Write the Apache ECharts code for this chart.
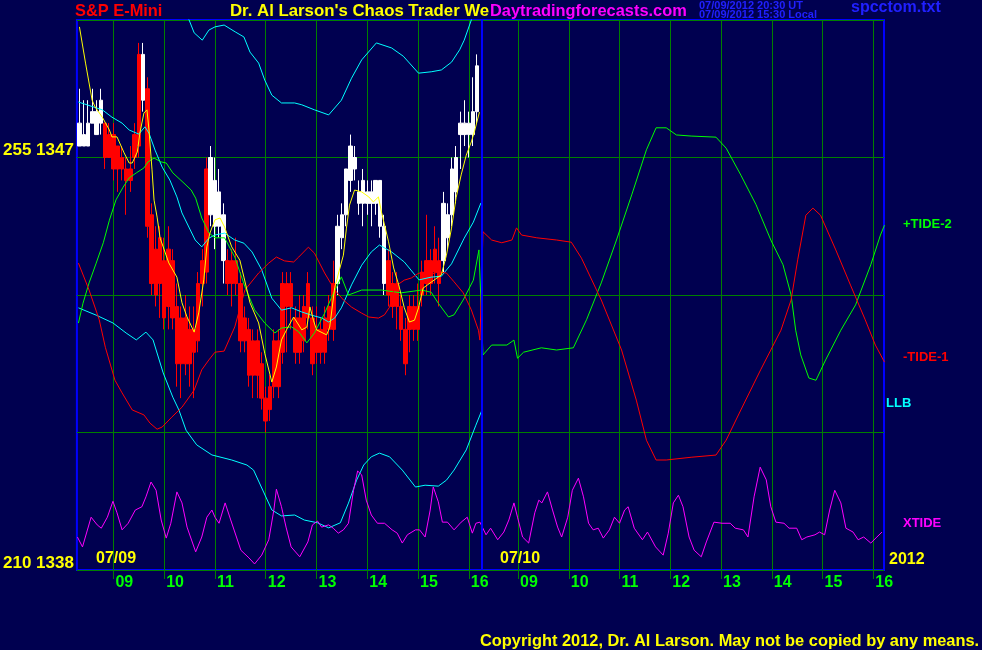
<!DOCTYPE html>
<html><head><meta charset="utf-8">
<script src="https://cdn.jsdelivr.net/npm/echarts@6.0.0/dist/echarts.min.js"></script>
<style>html,body{margin:0;padding:0;background:#000050;}#c{width:982px;height:650px;}</style>
</head><body><div id="c"></div>
<script>
// ---------- axis / session setup ----------
const SESSION_START = 8.28;   // left edge of each day panel (hour of day)
const SESSION_LEN = 7.97;     // hours shown per day panel
const X_MAX = 15.9;
const hourLabels = ['09','10','11','12','13','14','15','16'];
const dayLabels = ['07/09','07/10'];
const yTickValues = [1338, 1347];
const yTickTexts = ['210 1338', '255 1347'];

// ---------- candles: 5-minute bars from 8:20 on 07/09 ----------
const barFirstHour = 8 + 20/60;
const barStepHours = 5/60;
const barOpen = [1347.25,1347.25,1347.25,1347.75,1347.5,1347.75,1347.75,1347.5,1347.5,1347.25,1347.0,1346.75,1346.75,1347.5,1349.25,1348.25,1348.5,1345.75,1345.0,1345.25,1344.75,1345.0,1344.75,1343.75,1343.5,1343.5,1343.25,1343.25,1344.25,1344.75,1346.75,1345.75,1345.5,1345.5,1344.75,1344.75,1344.75,1344.75,1344.25,1343.5,1343.25,1343.0,1343.0,1342.5,1341.75,1342.0,1343.0,1343.0,1344.25,1344.25,1344.25,1343.5,1343.5,1343.75,1344.25,1343.5,1343.25,1343.25,1343.5,1343.75,1344.25,1344.25,1345.25,1345.75,1346.5,1346.75,1346.0,1346.0,1346.0,1346.0,1346.0,1345.5,1344.25,1344.75,1344.25,1344.25,1343.75,1343.25,1343.75,1343.75,1343.75,1344.5,1344.75,1344.75,1345.0,1344.75,1344.75,1345.25,1345.75,1346.25,1347.5,1347.5,1347.5,1347.5,1348.0];
const barClose = [1347.75,1347.5,1347.75,1348.0,1348.0,1348.25,1347.0,1347.0,1346.75,1346.75,1346.75,1346.5,1346.5,1347.0,1347.25,1349.25,1345.5,1344.25,1344.0,1344.25,1343.5,1343.75,1343.5,1342.5,1342.5,1342.5,1342.5,1342.75,1343.0,1344.25,1344.5,1347.0,1346.5,1346.25,1345.75,1344.25,1344.25,1344.25,1343.0,1343.0,1342.25,1342.25,1342.25,1341.75,1341.25,1341.5,1342.0,1342.0,1342.75,1343.75,1343.75,1342.75,1342.75,1343.0,1343.5,1342.5,1342.75,1342.75,1342.75,1343.25,1343.25,1345.5,1345.75,1346.75,1347.25,1347.0,1346.25,1346.5,1346.25,1346.25,1346.5,1346.5,1345.5,1344.0,1343.75,1343.75,1343.25,1342.5,1343.25,1343.25,1343.25,1344.0,1344.25,1344.25,1344.5,1344.25,1346.0,1345.75,1346.75,1347.0,1347.75,1347.75,1347.75,1348.0,1349.0];
const barHigh = [1348.5,1348.25,1348.25,1348.5,1348.25,1348.5,1347.75,1347.75,1347.75,1347.25,1347.25,1347.0,1347.25,1347.75,1349.5,1349.5,1348.75,1346.0,1345.5,1345.5,1345.25,1345.5,1345.0,1344.25,1343.75,1344.0,1343.75,1343.75,1344.5,1345.0,1347.0,1347.25,1347.0,1346.75,1346.0,1345.0,1345.0,1345.25,1344.5,1343.75,1343.5,1343.25,1343.25,1342.75,1342.0,1342.25,1343.25,1343.25,1344.5,1344.5,1344.5,1343.75,1344.0,1344.0,1344.5,1343.75,1343.75,1343.5,1343.75,1344.0,1344.75,1345.75,1346.0,1346.75,1347.5,1347.25,1346.5,1346.75,1346.5,1346.5,1346.5,1346.5,1345.75,1345.0,1344.5,1344.5,1344.0,1343.5,1344.0,1344.0,1344.25,1344.75,1345.75,1345.0,1345.5,1345.25,1346.25,1346.0,1347.0,1347.25,1348.0,1348.25,1348.0,1348.75,1349.25];
const barLow = [1347.25,1347.25,1347.25,1347.75,1347.5,1347.5,1346.75,1347.0,1346.5,1346.25,1346.5,1345.75,1346.25,1346.75,1347.0,1348.0,1345.25,1344.0,1343.75,1343.5,1343.25,1343.25,1343.25,1342.0,1341.75,1342.25,1342.0,1341.75,1342.75,1343.75,1344.25,1345.5,1345.0,1345.25,1344.25,1344.0,1343.75,1344.0,1342.75,1342.75,1342.0,1341.75,1341.75,1341.5,1341.0,1341.25,1341.75,1341.75,1342.5,1342.75,1343.25,1342.5,1342.5,1342.75,1343.25,1342.25,1342.5,1342.5,1342.5,1343.0,1343.0,1344.0,1345.0,1345.5,1346.25,1346.5,1345.75,1345.5,1345.75,1345.5,1345.75,1345.25,1344.0,1343.75,1343.5,1343.25,1343.0,1342.25,1342.75,1343.0,1343.0,1343.75,1344.0,1344.0,1344.25,1343.75,1344.5,1345.0,1345.5,1346.0,1346.75,1347.25,1347.0,1347.25,1347.75];

// ---------- price overlays on 07/09 : [hour of day, price] ----------
const yellowAvg = [[8.33,1349.85],[8.45,1349.06],[8.58,1348.25],[8.64,1348.10],[8.78,1347.88],[8.92,1347.6],[8.97,1347.45],[9.07,1347.45],[9.21,1347.10],[9.31,1346.88],[9.37,1346.88],[9.47,1347.12],[9.52,1347.53],[9.60,1347.97],[9.66,1348.04],[9.70,1347.6],[9.76,1346.73],[9.80,1346.07],[9.86,1345.70],[9.92,1345.24],[10.09,1344.70],[10.25,1344.39],[10.35,1343.83],[10.45,1343.52],[10.59,1343.19],[10.68,1343.61],[10.78,1344.33],[10.84,1345.05],[10.90,1345.35],[11.0,1345.64],[11.10,1345.68],[11.19,1345.48],[11.33,1345.05],[11.49,1344.76],[11.57,1344.39],[11.69,1343.83],[11.86,1343.39],[11.98,1342.73],[12.12,1342.10],[12.21,1342.43],[12.31,1343.02],[12.41,1343.24],[12.55,1343.52],[12.71,1343.24],[12.81,1343.30],[12.87,1343.74],[12.94,1343.45],[13.0,1343.24],[13.20,1343.13],[13.26,1343.30],[13.36,1344.17],[13.53,1344.87],[13.59,1345.46],[13.65,1345.96],[13.75,1346.29],[13.89,1346.25],[14.03,1346.14],[14.12,1346.03],[14.22,1346.14],[14.28,1345.81],[14.42,1345.16],[14.52,1344.59],[14.62,1344.22],[14.73,1343.72],[14.83,1343.41],[14.93,1343.45],[15.01,1343.72],[15.10,1344.15],[15.26,1344.28],[15.46,1344.44],[15.56,1344.87],[15.66,1345.46],[15.75,1346.12],[15.85,1346.62],[15.95,1347.05],[16.05,1347.34],[16.11,1347.56],[16.21,1347.99]];
const llbUpper = [[10.15,1350.65],[10.49,1350.0],[10.59,1349.72],[10.75,1349.56],[10.88,1349.78],[11.0,1349.85],[11.18,1349.89],[11.40,1349.74],[11.57,1349.63],[11.69,1349.30],[11.86,1349.06],[11.98,1348.69],[12.12,1348.36],[12.31,1348.19],[12.57,1348.19],[12.71,1348.15],[12.96,1348.04],[13.24,1347.93],[13.49,1348.25],[13.69,1348.73],[13.89,1349.13],[14.18,1349.5],[14.48,1349.39],[14.71,1349.21],[15.01,1348.84],[15.26,1348.87],[15.46,1348.91],[15.66,1349.08],[15.82,1349.35],[15.91,1349.56],[16.05,1350.0],[16.15,1350.4]];
const llbMid = [[8.31,1348.21],[8.78,1348.04],[8.97,1347.88],[9.17,1347.75],[9.31,1347.60],[9.50,1347.51],[9.62,1347.67],[9.70,1347.53],[9.82,1347.16],[9.96,1346.79],[10.11,1346.51],[10.25,1346.14],[10.35,1345.79],[10.61,1345.20],[10.74,1345.05],[10.88,1345.24],[11.0,1345.31],[11.19,1345.35],[11.39,1345.20],[11.57,1345.13],[11.73,1344.94],[11.92,1344.55],[12.12,1343.93],[12.31,1343.67],[12.51,1343.72],[12.71,1343.63],[12.90,1343.56],[13.10,1343.50],[13.24,1343.41],[13.36,1343.50],[13.49,1343.72],[13.69,1344.22],[13.89,1344.65],[14.08,1344.94],[14.24,1345.09],[14.48,1344.94],[14.73,1344.72],[15.02,1344.33],[15.26,1344.39],[15.46,1344.41],[15.66,1344.68],[15.91,1345.24],[16.09,1345.59],[16.24,1346.01]];
const llbLower = [[8.31,1343.72],[8.66,1343.56],[8.99,1343.39],[9.25,1343.17],[9.45,1343.02],[9.64,1343.19],[9.78,1343.02],[9.98,1342.30],[10.17,1341.77],[10.29,1341.49],[10.43,1341.05],[10.64,1340.73],[10.94,1340.51],[11.33,1340.40],[11.63,1340.29],[11.76,1340.18],[12.12,1339.31],[12.31,1339.18],[12.57,1339.20],[12.76,1339.09],[13.02,1339.03],[13.24,1338.92],[13.47,1339.03],[13.63,1339.46],[13.79,1339.96],[13.93,1340.29],[14.08,1340.47],[14.24,1340.55],[14.44,1340.47],[14.69,1340.18],[14.95,1339.81],[15.14,1339.85],[15.40,1339.83],[15.56,1339.96],[15.71,1340.18],[15.95,1340.62],[16.14,1341.16],[16.26,1341.49]];

// ---------- tide curves (relative scale 0-100) : [hour of day, value] ----------
const tide2Day1 = [[8.31,44.9],[8.40,48.5],[8.52,52.2],[8.66,55.8],[8.80,59.5],[8.92,63.6],[9.05,67.3],[9.19,69.6],[9.31,71.3],[9.45,72.2],[9.60,73.1],[9.68,74.2],[9.80,74.9],[9.94,74.2],[10.04,74.0],[10.17,72.2],[10.37,70.5],[10.53,69.1],[10.62,67.6],[10.74,64.0],[10.88,61.3],[11.0,60.4],[11.19,60.4],[11.39,56.9],[11.59,51.5],[11.78,47.3],[11.98,44.9],[12.18,43.1],[12.31,44.0],[12.51,44.2],[12.65,43.3],[12.81,41.3],[12.96,43.1],[13.16,46.7],[13.30,49.6],[13.49,53.3],[13.63,50.0],[13.89,50.9],[14.28,50.9],[14.67,50.4],[15.07,50.9],[15.26,50.5],[15.40,48.5],[15.60,46.0],[15.71,46.4],[15.89,49.1],[16.09,52.7],[16.20,58.2]];
const tide2Day2 = [[8.31,39.1],[8.48,40.9],[8.78,40.9],[8.92,41.8],[8.99,38.5],[9.11,39.6],[9.46,40.4],[9.76,40.0],[10.09,40.4],[10.35,45.5],[10.64,52.2],[10.94,60.0],[11.24,68.2],[11.53,76.4],[11.72,80.4],[11.92,80.4],[12.12,79.1],[12.41,78.9],[12.90,78.7],[13.10,76.7],[13.39,71.8],[13.69,66.4],[13.98,60.0],[14.22,55.5],[14.38,50.0],[14.47,43.6],[14.57,39.1],[14.73,34.9],[14.87,34.5],[15.06,38.2],[15.36,43.6],[15.65,48.2],[15.95,55.5],[16.14,60.9],[16.22,62.7]];
const tide1Day1 = [[8.31,55.8],[8.52,50.9],[8.72,45.5],[8.84,40.5],[9.03,34.5],[9.17,32.2],[9.37,29.1],[9.60,28.2],[9.72,26.7],[9.86,25.6],[9.96,26.0],[10.15,27.8],[10.35,29.6],[10.59,32.7],[10.74,36.4],[10.88,38.2],[11.0,39.6],[11.18,39.8],[11.39,44.2],[11.59,50.9],[11.86,54.0],[12.06,55.8],[12.21,56.9],[12.37,56.2],[12.55,56.0],[12.65,56.9],[12.84,58.7],[12.96,57.6],[13.16,54.0],[13.36,50.9],[13.53,49.1],[13.69,47.8],[13.89,46.7],[14.03,46.0],[14.22,45.8],[14.34,46.4],[14.44,47.8],[14.54,51.5],[14.73,52.7],[14.87,53.1],[15.02,54.0],[15.20,53.6],[15.40,54.2],[15.56,54.0],[15.71,52.4],[15.89,50.4],[16.05,47.3],[16.19,43.6],[16.22,41.8]];
const tide1Day2 = [[8.31,61.5],[8.48,60.0],[8.68,59.5],[8.88,60.0],[8.97,62.2],[9.07,60.9],[9.37,60.4],[9.76,60.0],[10.05,59.6],[10.25,56.7],[10.64,49.1],[11.04,40.0],[11.33,30.9],[11.53,23.6],[11.72,20.0],[11.92,20.0],[12.41,20.5],[12.90,20.9],[13.10,23.6],[13.39,29.1],[13.78,36.4],[14.18,43.6],[14.38,49.1],[14.51,56.4],[14.67,64.5],[14.81,65.8],[14.96,64.5],[15.26,58.2],[15.55,51.8],[15.84,45.5],[16.04,40.9],[16.22,37.8]];
const xtideDay1 = [[8.29,6.0],[8.39,4.2],[8.56,9.6],[8.68,8.2],[8.76,7.6],[8.88,9.6],[8.99,12.5],[9.07,10.4],[9.17,7.3],[9.29,8.5],[9.43,10.9],[9.56,11.5],[9.64,13.3],[9.74,16.0],[9.84,14.5],[9.94,9.1],[10.04,5.8],[10.13,8.5],[10.25,14.2],[10.35,12.2],[10.45,7.8],[10.62,3.3],[10.74,6.0],[10.84,9.6],[10.94,10.9],[11.0,9.6],[11.08,8.5],[11.20,12.2],[11.31,9.1],[11.51,3.6],[11.67,2.2],[11.78,1.1],[11.92,2.7],[12.06,5.5],[12.16,10.9],[12.21,14.7],[12.31,11.5],[12.40,7.8],[12.50,4.2],[12.67,2.4],[12.83,5.1],[12.92,8.2],[13.02,8.9],[13.10,7.8],[13.24,8.2],[13.33,7.6],[13.43,6.7],[13.53,7.3],[13.63,8.5],[13.73,14.5],[13.81,18.0],[13.89,17.3],[13.98,12.7],[14.08,10.0],[14.20,8.5],[14.34,8.5],[14.49,7.3],[14.59,6.7],[14.69,4.9],[14.79,6.4],[14.95,7.3],[15.03,7.3],[15.14,6.0],[15.24,10.9],[15.30,15.1],[15.40,12.4],[15.48,8.7],[15.58,8.7],[15.71,7.3],[15.85,8.7],[15.97,9.6],[16.07,6.7],[16.14,8.5],[16.22,8.7]];
const xtideDay2 = [[8.37,6.4],[8.46,7.6],[8.60,5.5],[8.72,6.9],[8.82,9.1],[8.92,12.2],[8.99,9.6],[9.09,6.0],[9.21,4.9],[9.33,10.4],[9.41,12.7],[9.47,12.2],[9.58,14.2],[9.68,10.9],[9.78,7.8],[9.86,6.0],[9.98,9.6],[10.07,14.5],[10.19,16.7],[10.29,13.3],[10.39,8.5],[10.48,7.3],[10.58,7.6],[10.68,5.8],[10.80,7.3],[10.90,9.6],[11.0,8.5],[11.10,10.9],[11.17,11.5],[11.29,7.6],[11.45,5.5],[11.55,6.9],[11.71,4.2],[11.86,2.7],[11.96,6.7],[12.06,12.2],[12.16,13.6],[12.25,11.5],[12.37,6.0],[12.47,3.6],[12.61,2.4],[12.71,5.1],[12.86,8.7],[13.02,8.5],[13.18,8.5],[13.28,7.6],[13.44,7.3],[13.53,6.0],[13.65,13.3],[13.77,18.7],[13.89,16.4],[13.98,11.5],[14.08,8.7],[14.24,8.5],[14.34,7.6],[14.49,7.6],[14.59,5.5],[14.69,6.0],[14.85,6.4],[14.94,6.9],[15.04,6.4],[15.14,10.9],[15.24,14.5],[15.36,12.2],[15.46,7.6],[15.60,6.9],[15.70,5.5],[15.81,6.0],[15.95,4.9],[16.07,6.0],[16.17,6.9]];

// ---------- build ----------
function T(day, h) { return day * SESSION_LEN + h - SESSION_START; }
const hourTicks = [];
[0, 1].forEach(d => hourLabels.forEach(l => hourTicks.push(T(d, parseInt(l, 10)))));
const toXY = (arr, day) => arr.map(p => [T(day, p[0]), p[1]]);
const candleData = barOpen.map((o, i) => [T(0, barFirstHour + i * barStepHours), o, barClose[i], barLow[i], barHigh[i]]);

const FONT = '"Liberation Sans", Arial, sans-serif';
function txt(text, x, y, fill, size) {
  return { type: 'text', x: x, y: y, z: 50, silent: true,
    style: { text: text, fill: fill, font: 'bold ' + size + 'px ' + FONT, align: 'left', verticalAlign: 'middle' } };
}
function lineSeries(name, data, color, yIdx, z) {
  return { name: name, type: 'line', data: data, yAxisIndex: yIdx, showSymbol: false, symbol: 'none',
    lineStyle: { color: color, width: 1 }, itemStyle: { color: color }, z: z, silent: true, animation: false };
}

const chart = echarts.init(document.getElementById('c'), null, { renderer: 'canvas' });
chart.setOption({
  backgroundColor: '#000050',
  animation: false,
  grid: { left: 75, right: 98, top: 20, bottom: 80, show: true, borderColor: '#0000ff', borderWidth: 2, backgroundColor: 'transparent' },
  xAxis: {
    type: 'value', min: 0, max: X_MAX,
    axisLine: { show: false }, splitLine: { show: false },
    axisTick: { show: true, customValues: hourTicks, length: 9, lineStyle: { color: '#008000', width: 1 } },
    axisLabel: {
      customValues: hourTicks, color: '#00ff00', fontSize: 16, fontWeight: 'bold', fontFamily: FONT,
      align: 'left', margin: 5, lineHeight: 16, padding: [0, 0, 0, 2],
      formatter: function (v) {
        const h = Math.round(v >= SESSION_LEN ? v - SESSION_LEN + SESSION_START : v + SESSION_START);
        return (h < 10 ? '0' : '') + h;
      }
    }
  },
  yAxis: [
    { type: 'value', min: 1338, max: 1350, interval: 3,
      axisLine: { show: false }, axisTick: { show: false },
      splitLine: { show: true, lineStyle: { color: '#008000', width: 1 } },
      axisLabel: { color: '#ffff00', fontSize: 17, fontWeight: 'bold', fontFamily: FONT, margin: 3,
        verticalAlign: 'bottom', lineHeight: 14, showMinLabel: true, showMaxLabel: true,
        formatter: function (v) { const k = yTickValues.indexOf(v); return k >= 0 ? yTickTexts[k] : ''; } } },
    { type: 'value', min: 0, max: 100, show: false }
  ],
  series: [
    { type: 'line', data: [], z: 1, silent: true,
      markLine: { silent: true, z: 1, symbol: ['none', 'none'], label: { show: false }, animation: false,
        lineStyle: { color: '#008000', width: 1, type: 'solid' },
        data: hourTicks.map(v => ({ xAxis: v })) } },
    { type: 'candlestick', data: candleData, barWidth: 4, z: 2, silent: true, animation: false,
      itemStyle: { color: '#ffffff', color0: '#ff0000', borderColor: '#ffffff', borderColor0: '#ff0000', borderWidth: 1 } },
    lineSeries('LLB upper', toXY(llbUpper, 0), '#00ffff', 0, 3),
    lineSeries('LLB mid', toXY(llbMid, 0), '#00ffff', 0, 3),
    lineSeries('LLB lower', toXY(llbLower, 0), '#00ffff', 0, 3),
    lineSeries('+TIDE-2', toXY(tide2Day1, 0).concat(toXY(tide2Day2, 1)), '#00ff00', 1, 3),
    lineSeries('-TIDE-1', toXY(tide1Day1, 0).concat(toXY(tide1Day2, 1)), '#ff0000', 1, 3),
    lineSeries('XTIDE', toXY(xtideDay1, 0).concat(toXY(xtideDay2, 1)), '#ff00ff', 1, 3),
    lineSeries('Average', toXY(yellowAvg, 0), '#ffff00', 0, 4),
    { type: 'line', data: [], z: 5, silent: true,
      markLine: { silent: true, z: 5, symbol: ['none', 'none'], label: { show: false }, animation: false,
        lineStyle: { color: '#0000ff', width: 2, type: 'solid' },
        data: [{ xAxis: SESSION_LEN }] } }
  ],
  graphic: [
    txt('S&P E-Mini', 75, 11, '#ff0000', 16.4),
    txt("Dr. Al Larson's Chaos Trader We", 230, 11, '#ffff00', 16.8),
    txt('Daytradingforecasts.com', 490, 11, '#ff00ff', 16.4),
    txt('07/09/2012 20:30 UT', 699, 6, '#2020ff', 11),
    txt('07/09/2012 15:30 Local', 699, 15, '#2020ff', 11),
    txt('spcctom.txt', 851, 8, '#2020ff', 16),
    txt(dayLabels[0], 96, 559, '#ffff00', 16),
    txt(dayLabels[1], 500, 559, '#ffff00', 16),
    txt('2012', 889, 560, '#ffff00', 16),
    txt('+TIDE-2', 903, 224, '#00ff00', 13),
    txt('-TIDE-1', 903, 357, '#ff0000', 13),
    txt('LLB', 886, 403, '#00ffff', 13),
    txt('XTIDE', 903, 523, '#ff00ff', 13),
    txt('Copyright 2012, Dr. Al Larson. May not be copied by any means.', 480, 641, '#ffff00', 16.4)
  ]
});
</script></body></html>
